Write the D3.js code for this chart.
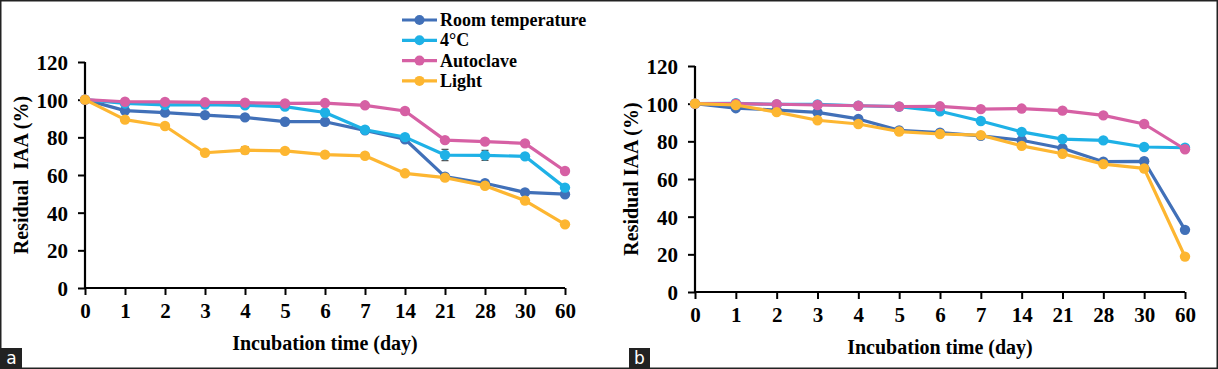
<!DOCTYPE html>
<html lang="en">
<head>
<meta charset="UTF-8">
<title>Residual IAA</title>
<script src="https://d3js.org/d3.v7.min.js"></script>
<style>
  body { margin: 0; background: #fff; }
  svg text { font-family: "Liberation Serif", "Times New Roman", serif; font-weight: bold; fill: #000; }
</style>
</head>
<body>
<div id="chart"></div>
<script>
// incubation days (categories)
var days = ["0", "1", "2", "3", "4", "5", "6", "7", "14", "21", "28", "30", "60"];
var seriesNames = ["Room temperature", "4°C", "Autoclave", "Light"];
var seriesColors = ["#4170B8", "#1EB1E6", "#D660A4", "#FDB631"];
var yTicks = [0, 20, 40, 60, 80, 100, 120];

// panel a values
var aRoom  = [100, 94.2, 93.1, 91.8, 90.6, 88.3, 88.3, 83.7, 79.0, 59.1, 55.6, 50.8, 49.8];
var aCold  = [100, 98.0, 97.2, 97.4, 97.0, 96.3, 93.2, 84.0, 80.1, 70.6, 70.4, 69.9, 53.3];
var aAuto  = [100, 98.9, 98.8, 98.6, 98.4, 98.0, 98.2, 97.0, 94.0, 78.5, 77.7, 76.8, 62.1];
var aLight = [100, 89.4, 86.0, 71.8, 73.2, 72.8, 70.8, 70.2, 60.9, 58.6, 54.3, 46.4, 33.8];
// panel a error bars
var aRoomErr  = [0, 0, 0, 0, 0, 0, 0, 0, 0, 0, 0, 0, 0];
var aColdErr  = [0, 0, 0, 0, 0, 0, 0, 0, 0, 3.0, 2.6, 0, 0];
var aAutoErr  = [0, 0, 0, 0, 0, 0, 0, 0, 0, 0, 0, 0, 0];
var aLightErr = [0, 0, 0, 0, 1.8, 0, 0, 0, 0, 0, 0, 0, 0];

// panel b values
var bRoom  = [100, 97.6, 96.6, 95.4, 91.9, 85.8, 84.6, 82.9, 80.6, 76.3, 69.2, 69.4, 33.0];
var bCold  = [100, 100.2, 99.6, 99.6, 98.9, 98.4, 96.0, 90.8, 85.0, 81.2, 80.5, 77.0, 76.6];
var bAuto  = [100, 100, 99.7, 99.3, 98.9, 98.5, 98.6, 97.1, 97.4, 96.3, 93.8, 89.2, 75.8];
var bLight = [100, 99.3, 95.5, 91.2, 89.2, 85.2, 83.9, 83.3, 77.6, 73.4, 67.9, 65.6, 18.8];
var bRoomErr  = [0, 0, 0, 0, 0, 0, 0, 0, 0, 0, 0, 1.5, 0];
var bColdErr  = [0, 0, 0, 0, 0, 0, 0, 0, 0, 0, 0, 0, 0];
var bAutoErr  = [0, 0, 0, 0, 0, 0, 0, 0, 0, 0, 0, 0, 0];
var bLightErr = [0, 0, 0, 0, 0, 0, 0, 0, 0, 0, 0, 1.5, 0];

var W = 1218, H = 369;
var svg = d3.select("#chart").append("svg")
    .attr("width", W).attr("height", H);

svg.append("rect").attr("x", 0.75).attr("y", 0.75)
    .attr("width", W - 1.5).attr("height", H - 1.5)
    .attr("fill", "#fff").attr("stroke", "#222").attr("stroke-width", 1.5);

function drawPanel(opt) {
    var x = d3.scalePoint().domain(days).range([opt.x0, opt.x1]);
    var y = d3.scaleLinear().domain([0, 120]).range([opt.y0, opt.y1]);
    var g = svg.append("g");

    var xAxis = g.append("g").attr("transform", "translate(0," + opt.y0 + ")")
        .call(d3.axisBottom(x).tickSize(7).tickPadding(8));
    var yAxis = g.append("g").attr("transform", "translate(" + opt.x0 + ",0)")
        .call(d3.axisLeft(y).tickValues(yTicks).tickSize(7).tickPadding(10));
    [xAxis, yAxis].forEach(function (ax) {
        ax.attr("font-family", null).attr("font-size", null);
        ax.select(".domain").attr("stroke", "#000").attr("stroke-width", 2.2);
        ax.selectAll(".tick line").attr("stroke", "#000").attr("stroke-width", 2);
        ax.selectAll(".tick text")
            .style("font-family", "'Liberation Serif', serif")
            .style("font-weight", "bold").style("font-size", "21px").style("fill", "#000");
    });
    yAxis.selectAll(".tick text").attr("dy", "0.35em");
    // the axes meet at the origin, no overhang
    xAxis.select(".domain").attr("d", "M" + opt.x0 + ",0H" + opt.x1);
    yAxis.select(".domain").attr("d", "M0," + opt.y1 + "V" + opt.y0);

    g.append("text").attr("x", (opt.x0 + opt.x1) / 2).attr("y", opt.y0 + 62)
        .attr("text-anchor", "middle").style("font-size", "20px")
        .text("Incubation time (day)");
    g.append("text")
        .attr("transform", "translate(" + opt.titleX + "," + (opt.y0 + opt.y1) / 2 + ") rotate(-90)")
        .attr("text-anchor", "middle").style("font-size", "20px")
        .attr("dy", "0.35em")
        .style("white-space", "pre")
        .text(opt.yTitle);

    var line = d3.line().x(function (d, i) { return x(days[i]); }).y(function (d) { return y(d); });

    opt.series.forEach(function (vals, k) {
        var col = seriesColors[k];
        var errs = opt.errors[k];
        var s = g.append("g");
        vals.forEach(function (d, i) {
            if (errs[i] > 0) {
                var cx = x(days[i]);
                s.append("path")
                    .attr("d", "M" + (cx - 3.5) + "," + y(d + errs[i]) + "H" + (cx + 3.5) +
                        "M" + cx + "," + y(d + errs[i]) + "V" + y(d - errs[i]) +
                        "M" + (cx - 3.5) + "," + y(d - errs[i]) + "H" + (cx + 3.5))
                    .attr("stroke", "#555").attr("stroke-width", 1.3).attr("fill", "none");
            }
        });
        s.append("path").datum(vals).attr("d", line)
            .attr("fill", "none").attr("stroke", col).attr("stroke-width", 3.2)
            .attr("stroke-linejoin", "round");
        s.selectAll("circle").data(vals).enter().append("circle")
            .attr("cx", function (d, i) { return x(days[i]); })
            .attr("cy", function (d) { return y(d); })
            .attr("r", 5.2).attr("fill", col);
    });

    // panel letter
    svg.append("rect").attr("x", opt.tagX).attr("y", 348).attr("width", 21).attr("height", 20)
        .attr("fill", "#222");
    svg.append("text").attr("x", opt.tagX + 10.5).attr("y", 364)
        .attr("text-anchor", "middle")
        .style("font-family", "'DejaVu Sans', sans-serif").style("font-weight", "normal")
        .style("font-size", "17px").style("fill", "#fff").text(opt.tag);
}

drawPanel({
    x0: 85, x1: 565, y0: 288, y1: 62, titleX: 21,
    yTitle: "Residual  IAA (%)",
    series: [aRoom, aCold, aAuto, aLight],
    errors: [aRoomErr, aColdErr, aAutoErr, aLightErr],
    tag: "a", tagX: 1
});
drawPanel({
    x0: 695, x1: 1185, y0: 292, y1: 66, titleX: 631,
    yTitle: "Residual IAA (%)",
    series: [bRoom, bCold, bAuto, bLight],
    errors: [bRoomErr, bColdErr, bAutoErr, bLightErr],
    tag: "b", tagX: 629
});

// legend
var legend = svg.append("g").attr("transform", "translate(402,20)");
seriesNames.forEach(function (name, i) {
    var row = legend.append("g").attr("transform", "translate(0," + (i * 20.3) + ")");
    row.append("line").attr("x1", 0).attr("x2", 35).attr("y1", 0).attr("y2", 0)
        .attr("stroke", seriesColors[i]).attr("stroke-width", 3.2);
    row.append("circle").attr("cx", 17.5).attr("cy", 0).attr("r", 5).attr("fill", seriesColors[i]);
    row.append("text").attr("x", 38).attr("y", 0).attr("dy", "0.33em")
        .style("font-size", "18px").text(name);
});
</script>
</body>
</html>
